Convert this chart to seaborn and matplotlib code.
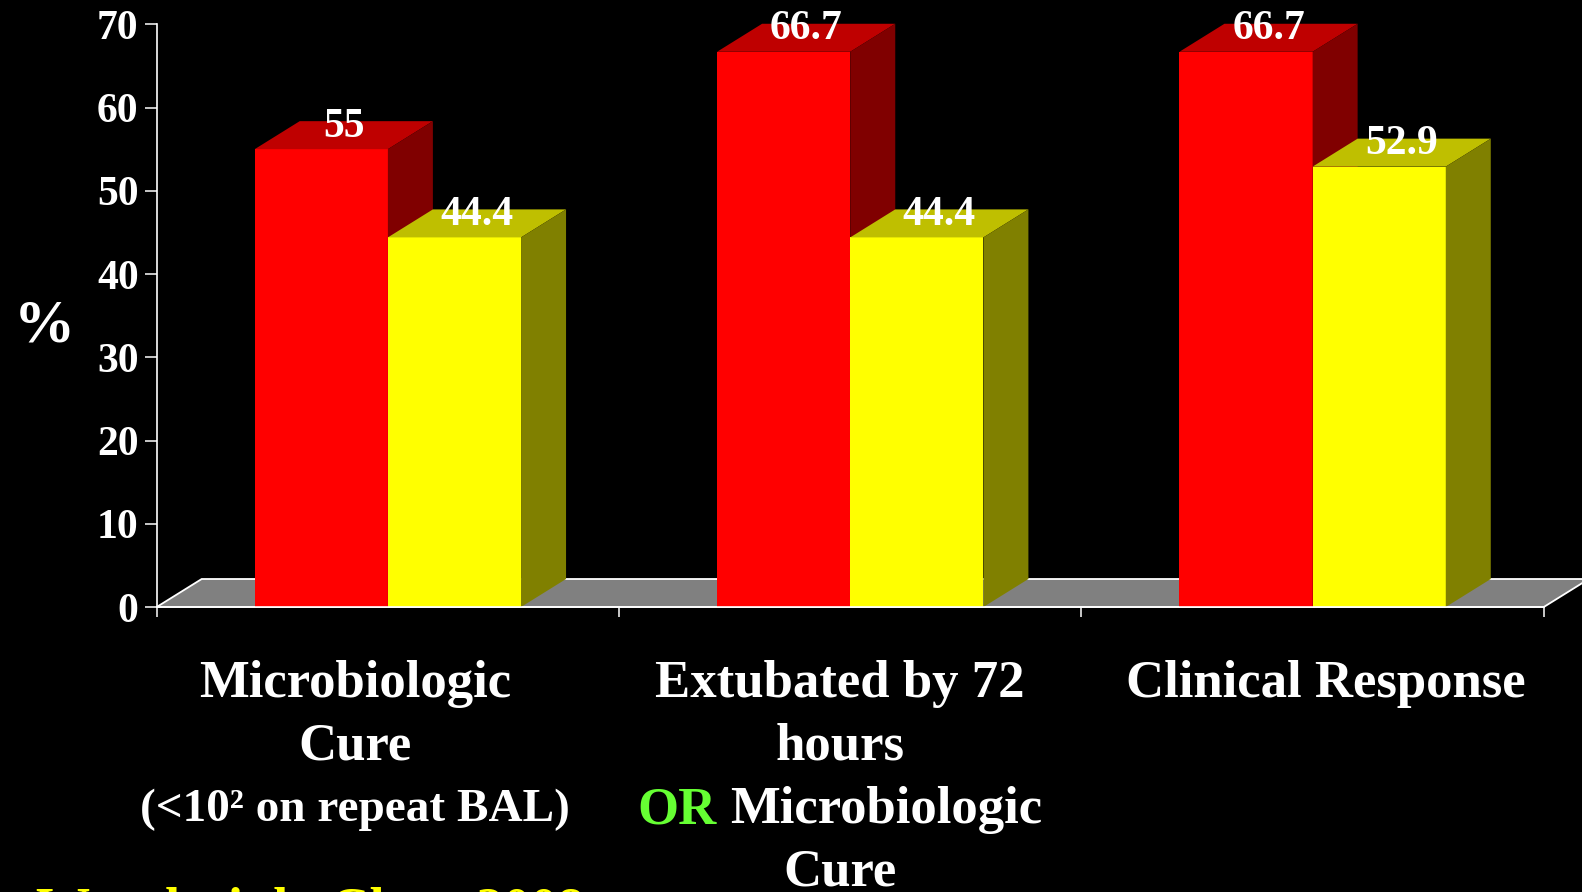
import matplotlib
matplotlib.use("Agg")
import matplotlib.pyplot as plt
from matplotlib.patches import Polygon, Rectangle
import numpy as np
import pandas as pd
import seaborn as sns

# ---- data -------------------------------------------------------------
categories = ["Microbiologic Cure", "Extubated by 72 hours OR Microbiologic Cure",
              "Clinical Response"]
series_names = ["Series 1", "Series 2"]
red_values = [55.0, 66.7, 66.7]
yellow_values = [44.4, 44.4, 52.9]
y_ticks = [0, 10, 20, 30, 40, 50, 60, 70]
y_axis_label = "%"
source_note = "Wunderink, Chest 2008"

# ---- style ------------------------------------------------------------
sns.set_style("ticks")
plt.rcParams["font.family"] = ["Liberation Serif", "DejaVu Serif"]
plt.rcParams["font.weight"] = "bold"

W, H, DPI = 1582, 892, 100
fig = plt.figure(figsize=(W / DPI, H / DPI), dpi=DPI, facecolor="black")
ax = fig.add_axes([156.7 / W, 1 - 607 / H, (1543.8 - 156.7) / W, (607 - 24.3) / H])
ax.set_facecolor("black")

df = pd.DataFrame({
    "category": categories * 2,
    "percent": red_values + yellow_values,
    "series": [series_names[0]] * 3 + [series_names[1]] * 3,
})

RED = (1.0, 0.0, 0.0)
YELLOW = (1.0, 1.0, 0.0)
sns.barplot(data=df, x="category", y="percent", hue="series",
            palette=[RED, YELLOW], width=0.576, saturation=1,
            legend=False, linewidth=0, ax=ax)

ax.set_xlim(-0.5, 2.5)
ax.set_ylim(0, 70)

# the bar rectangles produced by seaborn, ordered left to right
bars = sorted([p for p in ax.patches if isinstance(p, Rectangle)],
              key=lambda p: p.get_x())

# depth of the pseudo-3D extrusion, in data units
px_per_x = (1543.8 - 156.7) / 3.0
px_per_y = (607 - 24.3) / 70.0
DX = 45.0 / px_per_x
DY = 28.0 / px_per_y

# floor
floor = Polygon([(-0.5, 0), (-0.5 + DX, DY), (2.5 + DX, DY), (2.5, 0)],
                closed=True, facecolor="#808080", edgecolor="white",
                linewidth=1.3, zorder=1, clip_on=False)
ax.add_patch(floor)

# extrude each bar: top and side faces, drawn left to right
for i, bar in enumerate(bars):
    x0 = bar.get_x()
    w = bar.get_width()
    h = bar.get_height()
    fc = np.array(bar.get_facecolor()[:3])
    z = 2 + i * 0.1
    bar.set_zorder(z)
    bar.set_clip_on(False)
    top = Polygon([(x0, h), (x0 + DX, h + DY), (x0 + w + DX, h + DY), (x0 + w, h)],
                  closed=True, facecolor=fc * 0.75, edgecolor="none",
                  zorder=z + 0.01, clip_on=False)
    side = Polygon([(x0 + w, 0), (x0 + w + DX, DY), (x0 + w + DX, h + DY), (x0 + w, h)],
                   closed=True, facecolor=fc * 0.5, edgecolor="none",
                   zorder=z + 0.02, clip_on=False)
    ax.add_patch(top)
    ax.add_patch(side)
    ax.text(x0 + w / 2 + DX / 2, h + DY / 2 - 0.18, f"{h:g}",
            ha="center", va="baseline", color="white", fontsize=30,
            fontweight="bold", zorder=10, clip_on=False)

# axes decoration
for s in ["top", "right"]:
    ax.spines[s].set_visible(False)
for s in ["left", "bottom"]:
    ax.spines[s].set_color("white")
    ax.spines[s].set_linewidth(1.2)
    ax.spines[s].set_zorder(5)

ax.set_yticks(y_ticks)
ax.set_yticklabels([str(t) for t in y_ticks])
ax.tick_params(axis="y", colors="white", labelsize=30, length=9, width=1.1,
               pad=4, direction="out")
for lbl in ax.get_yticklabels():
    lbl.set_fontweight("bold")
ax.set_xticks([-0.5, 0.5, 1.5, 2.5])
ax.set_xticklabels([])
ax.tick_params(axis="x", colors="white", length=7.5, width=1.1, direction="out")
ax.set_xlabel("")
ax.set_ylabel("")


def fx(px):
    return px / W


def fy(py):
    return 1 - py / H


fig.text(fx(44), fy(341), y_axis_label, ha="center", va="baseline",
         color="white", fontsize=44, fontweight="bold")

# category captions
cat_size = 38
base = [697, 760, 823, 886]
fig.text(fx(355), fy(base[0]), "Microbiologic", ha="center", va="baseline",
         color="white", fontsize=cat_size, fontweight="bold")
fig.text(fx(355), fy(base[1]), "Cure", ha="center", va="baseline",
         color="white", fontsize=cat_size, fontweight="bold")
fig.text(fx(355), fy(base[2] - 2), "(<10\u00b2 on repeat BAL)", ha="center",
         va="baseline", color="white", fontsize=34, fontweight="bold")

fig.text(fx(840), fy(base[0]), "Extubated by 72", ha="center", va="baseline",
         color="white", fontsize=cat_size, fontweight="bold")
fig.text(fx(840), fy(base[1]), "hours", ha="center", va="baseline",
         color="white", fontsize=cat_size, fontweight="bold")
fig.text(fx(840), fy(base[3]), "Cure", ha="center", va="baseline",
         color="white", fontsize=cat_size, fontweight="bold")

# mixed-colour line: green "OR" followed by white text, centred as a whole
renderer = fig.canvas.get_renderer()
probe = fig.text(0, 0, "OR Microbiologic", fontsize=cat_size, fontweight="bold")
w_full = probe.get_window_extent(renderer).width
probe.remove()
start = 840 - w_full / 2
fig.text(fx(start), fy(base[2]), "OR", ha="left", va="baseline",
         color="#66FF33", fontsize=cat_size, fontweight="bold")
fig.text(fx(start + w_full), fy(base[2]), "Microbiologic", ha="right",
         va="baseline", color="white", fontsize=cat_size, fontweight="bold")

fig.text(fx(1326), fy(base[0]), "Clinical Response", ha="center",
         va="baseline", color="white", fontsize=cat_size, fontweight="bold")

fig.text(fx(36), fy(924), source_note, ha="left", va="baseline",
         color="#FFFF00", fontsize=39, fontweight="bold")

fig.savefig("out.png", dpi=DPI, facecolor="black")
